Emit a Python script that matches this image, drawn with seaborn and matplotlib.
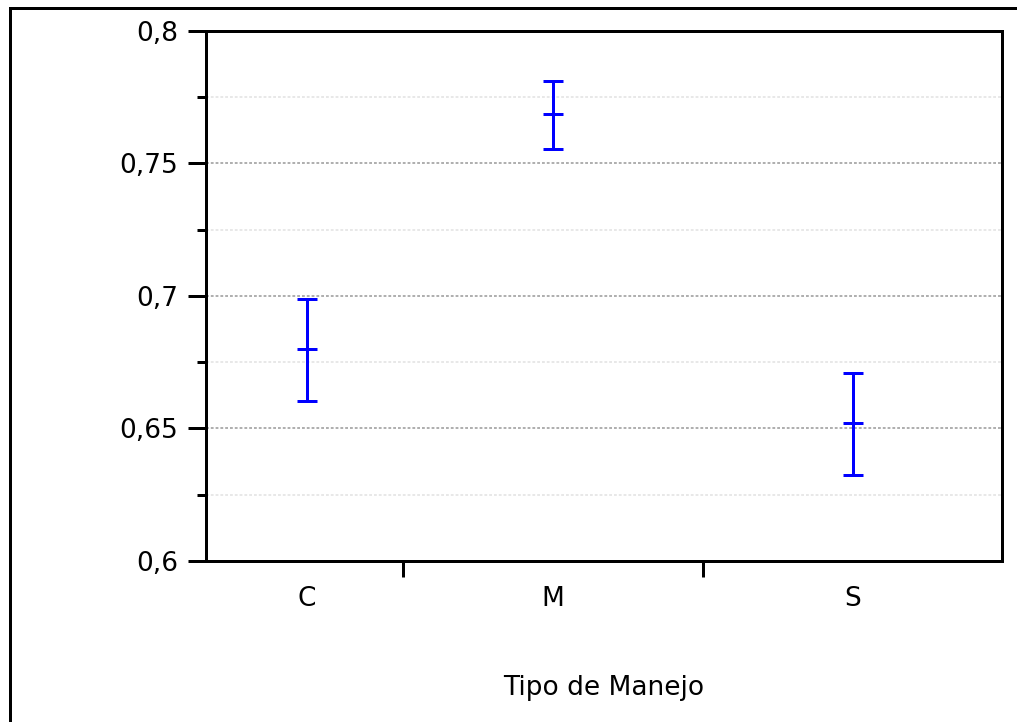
import numpy as np
import pandas as pd
import matplotlib
matplotlib.use("Agg")
import matplotlib.pyplot as plt
from matplotlib.lines import Line2D
import seaborn as sns

# Mean and interval limits per management type
categories = ["C", "M", "S"]
means = [0.680, 0.7685, 0.652]
lower = [0.6605, 0.7555, 0.6325]
upper = [0.6990, 0.7810, 0.6710]

# Horizontal placement of each group on the x axis
positions = [0.18, 1.0, 2.0]

y_major = [0.6, 0.65, 0.7, 0.75, 0.8]
y_major_labels = ["0,6", "0,65", "0,7", "0,75", "0,8"]
y_minor = [0.625, 0.675, 0.725, 0.775]

rows = []
for cat, pos, lo, m, hi in zip(categories, positions, lower, means, upper):
    for v in (lo, m, hi):
        rows.append({"grupo": cat, "pos": pos, "valor": v})
df = pd.DataFrame(rows)

sns.set_theme(style="white")
plt.rcParams["font.family"] = ["DejaVu Sans"]
plt.rcParams["text.color"] = "black"
plt.rcParams["xtick.color"] = "black"
plt.rcParams["ytick.color"] = "black"
plt.rcParams["axes.labelcolor"] = "black"

px = 72 / 100  # points per pixel at 100 dpi
fig = plt.figure(figsize=(10.17, 7.22), dpi=100)
ax = fig.add_axes([206 / 1017, 1 - 561 / 722, (1002 - 206) / 1017, (561 - 31) / 722])

# Median of (lower, mean, upper) is the mean; the 100% interval spans lower..upper
sns.pointplot(
    data=df, x="pos", y="valor", native_scale=True,
    estimator="median", errorbar=("pi", 100),
    color="#0000ff", markers="_", linestyles="none",
    capsize=0.081, err_kws={"linewidth": 3 * px},
    markersize=20 * px, markeredgewidth=3 * px, ax=ax,
)
for ln in ax.lines:
    ln.set_linewidth(3 * px)
    ln.set_solid_capstyle("butt")

ax.set_ylim(0.6, 0.8)
ax.set_xlim(-0.157, 2.497)

# Grid lines: darker at major ticks, lighter at minor ticks
for v in y_major[1:-1]:
    ax.axhline(v, color="#b0b0b0", lw=2 * px, ls=(0, (1.4, 1.0)), zorder=0)
for v in y_minor:
    ax.axhline(v, color="#e8e8e8", lw=2 * px, ls=(0, (1.4, 1.0)), zorder=0)

ax.set_yticks(y_major)
ax.set_yticklabels(y_major_labels)
ax.set_yticks(y_minor, minor=True)
ax.tick_params(axis="y", which="major", direction="out", length=18 * px,
               width=3 * px, color="black", labelcolor="black",
               labelsize=19, pad=7, left=True)
ax.tick_params(axis="y", which="minor", direction="out", length=9 * px,
               width=3 * px, color="black", left=True)

# Group separators as major x ticks, group names as minor tick labels
ax.set_xticks([0.5, 1.5])
ax.set_xticklabels(["", ""])
ax.set_xticks(positions, minor=True)
ax.set_xticklabels(categories, minor=True)
ax.tick_params(axis="x", which="major", direction="out", length=16 * px,
               width=3 * px, color="black", bottom=True)
ax.tick_params(axis="x", which="minor", length=0, labelsize=19,
               labelcolor="black", pad=18)

ax.set_xlabel("Tipo de Manejo", fontsize=19, color="black")
ax.xaxis.set_label_coords(0.5, -0.2396)
ax.xaxis.label.set_va("center")
ax.set_ylabel("")

for s in ax.spines.values():
    s.set_visible(True)
    s.set_color("black")
    s.set_linewidth(3 * px)

# Outer frame around the chart
W, H = 1017, 722
fig.add_artist(Line2D([9.5 / W, 9.5 / W], [0, 1 - 7.5 / H], transform=fig.transFigure,
                      color="black", lw=3 * px, solid_capstyle="projecting"))
fig.add_artist(Line2D([9.5 / W, 1], [1 - 7.5 / H, 1 - 7.5 / H], transform=fig.transFigure,
                      color="black", lw=3 * px, solid_capstyle="projecting"))

fig.savefig("out.png", dpi=100, facecolor="white")
